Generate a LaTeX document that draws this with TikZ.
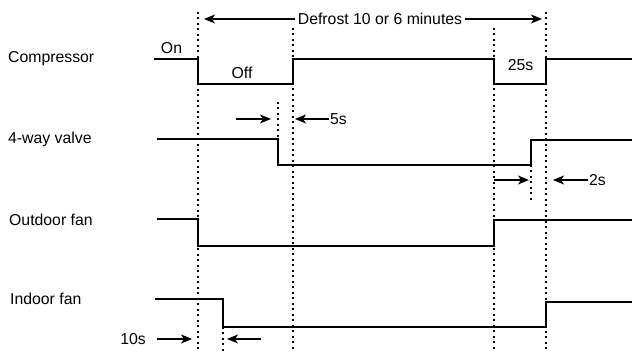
\documentclass[tikz,border=0pt]{standalone}
\usepackage{fontspec}
\setmainfont{Liberation Sans}
\usetikzlibrary{arrows.meta}

\tikzset{
  sig/.style={line width=1.2pt},
  guide/.style={line width=1.2pt, dash pattern=on 2pt off 3.5pt},
  lbl/.style={inner sep=0pt},
  mark arrow/.style={line width=1.2pt, -{Stealth[length=11pt,width=9pt,inset=3pt]}}
}

\begin{document}
\begin{tikzpicture}[x=1pt, y=-1pt, font=\fontsize{15.8}{18}\selectfont]
  \useasboundingbox (0,0) rectangle (633,352);

  % signal names
  \node[lbl, anchor=west] (comp)  at (8,59)   {Compressor};
  \node[lbl, anchor=west] (valve) at (8,139)  {4-way valve};
  \node[lbl, anchor=west] (ofan)  at (9,220)  {Outdoor fan};
  \node[lbl, anchor=west] (ifan)  at (10,299) {Indoor fan};

  % guide lines
  \draw[guide] (198,12) -- (198,352);
  \draw[guide] (293,28) -- (293,352);
  \draw[guide] (494,28) -- (494,352);
  \draw[guide] (546,12) -- (546,352);
  \draw[guide] (278,102) -- (278,139);
  \draw[guide] (531,165) -- (531,203);
  \draw[guide] (223,327) -- (223,352);

  % waveforms
  \draw[sig] (154,59) -- (198,59) -- (198,84) -- (293,84) -- (293,59)
             -- (494,59) -- (494,84) -- (546,84) -- (546,59) -- (632,59);
  \draw[sig] (157,139) -- (278,139) -- (278,165) -- (531,165) -- (531,140) -- (632,140);
  \draw[sig] (157,219) -- (198,219) -- (198,246) -- (494,246) -- (494,220) -- (632,220);
  \draw[sig] (155,299) -- (223,299) -- (223,327) -- (546,327) -- (546,302) -- (632,302);

  \node[lbl] (on)  at (171.5,48.5) {On};
  \node[lbl] (off) at (242,73)     {Off};
  \node[lbl] (d25) at (520.5,65)   {25s};

  % defrost span
  \node[inner sep=2.5pt] (defrost) at (380,19) {Defrost 10 or 6 minutes};
  \coordinate (defL) at (204,19);
  \coordinate (defR) at (542,19);
  \draw[mark arrow] (defrost.west) -- (defL);
  \draw[mark arrow] (defrost.east) -- (defR);

  % 5s
  \node[inner sep=1pt, anchor=west] (d5) at (329,119) {5s};
  \coordinate (a5s) at (236,119);
  \coordinate (a5e) at (271,119);
  \coordinate (b5e) at (295,119);
  \draw[mark arrow] (a5s) -- (a5e);
  \draw[mark arrow] (d5.west) -- (b5e);

  % 2s
  \node[inner sep=1pt, anchor=west] (d2) at (588,180) {2s};
  \coordinate (a2s) at (494,180);
  \coordinate (a2e) at (529,180);
  \coordinate (b2e) at (553,180);
  \draw[mark arrow] (a2s) -- (a2e);
  \draw[mark arrow] (d2.west) -- (b2e);

  % 10s
  \node[inner sep=1pt, anchor=east] (d10) at (147,339) {10s};
  \coordinate (a10s) at (157,339);
  \coordinate (a10e) at (192,339);
  \coordinate (b10s) at (261,339);
  \coordinate (b10e) at (227,339);
  \draw[mark arrow] (a10s) -- (a10e);
  \draw[mark arrow] (b10s) -- (b10e);
\end{tikzpicture}
\end{document}
